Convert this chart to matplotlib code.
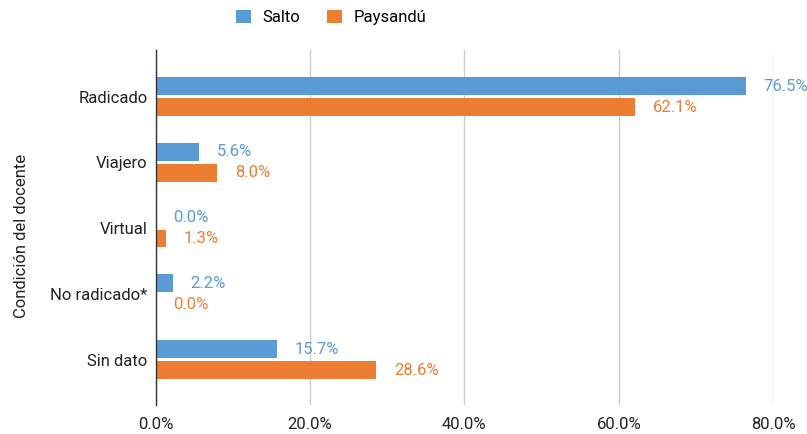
import matplotlib
matplotlib.use("Agg")
import matplotlib.pyplot as plt
from matplotlib.ticker import FuncFormatter

plt.rcParams['font.family'] = ['Roboto', 'DejaVu Sans']

categories = ["Radicado", "Viajero", "Virtual", "No radicado*", "Sin dato"]
salto = [76.5, 5.6, 0.0, 2.2, 15.7]
paysandu = [62.1, 8.0, 1.3, 0.0, 28.6]
series_names = ["Salto", "Paysandú"]
xticks = [0, 20, 40, 60, 80]

blue = "#5B9BD5"
orange = "#ED7D31"
fs = 12

fig = plt.figure(figsize=(8.07, 4.34), dpi=100)
ax = fig.add_axes([0.193, 0.067, 0.765, 0.818])

ys = list(range(len(categories)))
h = 0.27
off = 0.16
b1 = ax.barh([y - off for y in ys], salto, height=h, color=blue, label=series_names[0], zorder=3)
b2 = ax.barh([y + off for y in ys], paysandu, height=h, color=orange, label=series_names[1], zorder=3)

for y, v in zip(ys, salto):
    ax.text(v + 2.3, y - off, f"{v:.1f}%", color=blue, va="center", ha="left", fontsize=fs)
for y, v in zip(ys, paysandu):
    ax.text(v + 2.3, y + off, f"{v:.1f}%", color=orange, va="center", ha="left", fontsize=fs)

ax.set_xlim(0, 80)
ax.set_ylim(4.69, -0.71)
ax.set_yticks(ys)
ax.set_yticklabels(categories, fontsize=fs, color="#222222")
ax.set_xticks(xticks)
ax.xaxis.set_major_formatter(FuncFormatter(lambda v, p: f"{v:.1f}%"))
ax.tick_params(axis='x', labelsize=fs, colors="#222222", length=0, pad=9)
ax.tick_params(axis='y', length=0, pad=6)
ax.grid(axis='x', color="#cccccc", linewidth=1, zorder=0)
for s in ["top", "right", "bottom"]:
    ax.spines[s].set_visible(False)
ax.spines["left"].set_color("#333333")
ax.spines["left"].set_linewidth(1)
ax.spines["left"].set_zorder(4)
ax.set_ylabel("Condición del docente", fontsize=fs, color="#222222")
ax.yaxis.set_label_coords(-0.205, 0.475)

fig.legend(handles=[b1, b2], labels=series_names, loc="center", bbox_to_anchor=(0.41, 0.96),
           ncol=2, frameon=False, fontsize=fs, handlelength=0.9, handleheight=0.9,
           columnspacing=1.6, handletextpad=0.7)

fig.savefig("out.png", dpi=100)
